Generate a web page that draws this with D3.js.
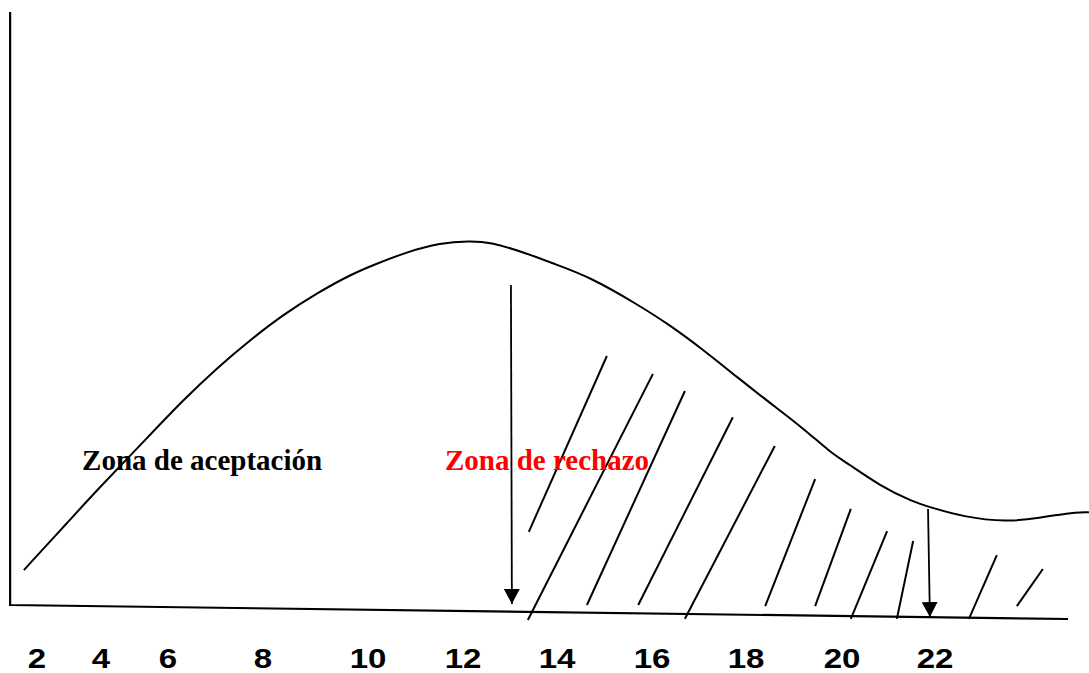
<!doctype html>
<html lang="es">
<head>
  <meta charset="utf-8">
  <title>Zona de aceptación / rechazo</title>
  <script src="https://d3js.org/d3.v7.min.js"></script>
  <style>
    body { margin: 0; background: #fff; }
    svg { display: block; }
  </style>
</head>
<body>
  <script type="text/javascript">
    // tick labels along the bottom
    var ticks = [2, 4, 6, 8, 10, 12, 14, 16, 18, 20, 22];

    // the curve (x in tick units, y in percent of the peak)
    var curveX = [1.59, 3.03, 3.88, 5.46, 6.32, 7.03, 7.73, 8.38, 9.03, 9.66, 10.11, 10.82, 11.52,
                  12.15, 12.57, 13.28, 14.0, 14.69, 15.68, 16.38, 17.09, 17.81, 18.5, 19.19, 19.75,
                  20.11, 20.82, 21.53, 21.89, 22.6, 23.55, 24.26, 24.84, 25.31];
    var curveY = [9.6, 23.4, 31.6, 46.7, 56.3, 65.1, 72.8, 79.7, 85.7, 90.7, 93.4, 97.0, 99.5,
                  100, 99.7, 97.0, 93.4, 90.1, 82.7, 76.9, 70.1, 62.6, 55.5, 48.6, 42.0,
                  39.0, 32.7, 28.3, 26.9, 24.2, 22.8, 23.9, 25.3, 25.5];

    // hatch strokes of the rejection zone: top end, bottom end
    var hatchTopX = [15.05, 16.02, 16.7, 17.72, 18.6, 19.44, 20.19, 20.97, 21.53, 23.33, 24.32];
    var hatchTopY = [68.4, 63.5, 58.8, 51.6, 43.7, 34.6, 26.4, 20.3, 17.6, 13.7, 9.9];
    var hatchBotX = [13.4, 13.38, 14.63, 15.71, 16.7, 18.4, 19.44, 20.19, 21.18, 22.73, 23.76];
    var hatchBotY = [20.1, -4.1, 0, 0, -3.8, -0.3, -0.3, -3.8, -3.8, -3.8, -0.3];

    // the two critical-value arrows
    var arrowX1 = [13.02, 21.85];
    var arrowY1 = [87.9, 26.4];
    var arrowX2 = [13.04, 21.89];
    var arrowY2 = [0.3, -3.3];

    // axis lines (baseline drops slightly to the right)
    var axisX = [1.16, 1.16, 24.86];
    var axisY = [162.9, 0, -3.85];

    var labels = ["Zona de aceptación", "Zona de rechazo"];
    var labelX = [3.41, 11.62];
    var labelY = [37.1, 37.1];
    var labelColors = ["#000", "#ff0000"];

    var width = 1089;
    var height = 673;

    var svg = d3.select("body")
      .append("svg")
      .attr("width", width)
      .attr("height", height);

    // the tick labels are not evenly spaced in the original
    var x = d3.scaleLinear()
      .domain(ticks)
      .range([37, 101, 168, 263, 368, 463, 557, 652, 746, 842, 935]);

    var y = d3.scaleLinear()
      .domain([0, 100])
      .range([605, 241]);

    var line = d3.line()
      .x(d => x(d[0]))
      .y(d => y(d[1]));

    // axes
    svg.append("path")
      .datum(axisX.map((v, i) => [v, axisY[i]]))
      .attr("fill", "none")
      .attr("stroke", "#000")
      .attr("stroke-width", 2.2)
      .attr("d", line);

    // curve, smoothed through the read-off points
    svg.append("path")
      .datum(curveX.map((v, i) => [v, curveY[i]]))
      .attr("fill", "none")
      .attr("stroke", "#000")
      .attr("stroke-width", 2)
      .attr("d", line.curve(d3.curveBasis));

    line.curve(d3.curveLinear);

    // hatching
    svg.append("g")
      .selectAll("line")
      .data(hatchTopX)
      .join("line")
      .attr("x1", (d, i) => x(d))
      .attr("y1", (d, i) => y(hatchTopY[i]))
      .attr("x2", (d, i) => x(hatchBotX[i]))
      .attr("y2", (d, i) => y(hatchBotY[i]))
      .attr("stroke", "#000")
      .attr("stroke-width", 2);

    // arrows
    svg.append("defs")
      .append("marker")
      .attr("id", "head")
      .attr("markerUnits", "userSpaceOnUse")
      .attr("viewBox", "0 0 15 16")
      .attr("markerWidth", 15)
      .attr("markerHeight", 16)
      .attr("refX", 15)
      .attr("refY", 8)
      .attr("orient", "auto")
      .append("path")
      .attr("d", "M0,0L15,8L0,16Z")
      .attr("fill", "#000");

    svg.append("g")
      .selectAll("line")
      .data(arrowX1)
      .join("line")
      .attr("x1", (d, i) => x(d))
      .attr("y1", (d, i) => y(arrowY1[i]))
      .attr("x2", (d, i) => x(arrowX2[i]))
      .attr("y2", (d, i) => y(arrowY2[i]))
      .attr("stroke", "#000")
      .attr("stroke-width", 1.8)
      .attr("marker-end", "url(#head)");

    // zone labels
    svg.append("g")
      .selectAll("text")
      .data(labels)
      .join("text")
      .attr("x", (d, i) => x(labelX[i]))
      .attr("y", (d, i) => y(labelY[i]))
      .attr("fill", (d, i) => labelColors[i])
      .attr("font-family", "'Liberation Serif', 'Times New Roman', serif")
      .attr("font-weight", "bold")
      .attr("font-size", 29)
      .text(d => d);

    // tick labels (the original glyphs are a little wide)
    svg.append("g")
      .selectAll("text")
      .data(ticks)
      .join("text")
      .attr("transform", d => "translate(" + x(d) + ",668) scale(1.18,1)")
      .attr("text-anchor", "middle")
      .attr("font-family", "'Liberation Sans', Arial, sans-serif")
      .attr("font-weight", "bold")
      .attr("font-size", 28)
      .text(d => d);
  </script>
</body>
</html>
